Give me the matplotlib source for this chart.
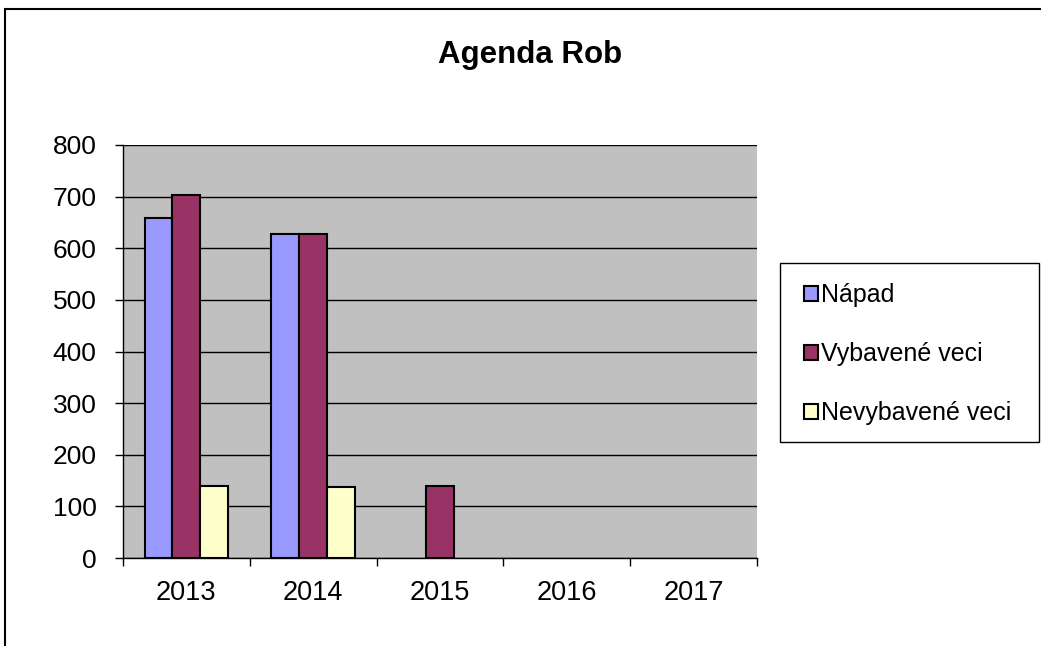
import numpy as np
import matplotlib
matplotlib.use("Agg")
import matplotlib.pyplot as plt
from matplotlib.patches import Rectangle

plt.rcParams["font.family"] = ["Liberation Sans", "DejaVu Sans"]

# data
years = ["2013", "2014", "2015", "2016", "2017"]
napad = [659, 628, 0, 0, 0]
vybavene = [703, 628, 139, 0, 0]
nevybavene = [140, 138, 0, 0, 0]

series_names = ["Nápad", "Vybavené veci", "Nevybavené veci"]
series_colors = ["#9999FF", "#993366", "#FFFFCC"]

W, H = 1041, 646
fig = plt.figure(figsize=(W / 100, H / 100), dpi=100)

# outer chart border (only top/left visible in the reference)
fig.patches.append(Rectangle((5 / W, -0.1), 1.2, 1 - 9 / H + 0.1,
                             transform=fig.transFigure, fill=False,
                             edgecolor="black", linewidth=1.5))

ax = fig.add_axes([123 / W, (H - 558) / H, (757 - 123) / W, (558 - 145) / H])
ax.set_facecolor("#C0C0C0")

x = np.arange(len(years))
bw = 0.22
bars = []
for i, (vals, col) in enumerate(zip([napad, vybavene, nevybavene], series_colors)):
    b = ax.bar(x + (i - 1) * bw, vals, width=bw, color=col,
               edgecolor="black", linewidth=1.5, zorder=3)
    # empty values are not drawn at all
    for p, v in zip(b.patches, vals):
        if v == 0:
            p.set_visible(False)
    bars.append(b)

ax.set_xlim(-0.5, len(years) - 0.5)
ax.set_ylim(0, 800)
ax.set_yticks(np.arange(0, 801, 100))
ax.yaxis.grid(True, color="black", linewidth=1.0, zorder=1)
ax.set_axisbelow(True)

# category boundaries as major ticks, labels at the centres
ax.set_xticks(np.arange(-0.5, len(years), 1.0))
ax.set_xticklabels([])
ax.set_xticks(x, minor=True)
ax.set_xticklabels(years, minor=True)
ax.tick_params(axis="x", which="major", direction="out", length=6, width=1.0)
ax.tick_params(axis="x", which="minor", length=0, pad=16, labelsize=19.5)
ax.tick_params(axis="y", direction="out", length=6, width=1.0, pad=13, labelsize=19)

for s in ["top", "right"]:
    ax.spines[s].set_visible(False)
ax.spines["left"].set_linewidth(1.0)
ax.spines["bottom"].set_linewidth(1.0)

fig.text(530 / W, 1 - 63 / H, "Agenda Rob", ha="center", va="baseline",
         fontsize=22.5, fontweight="bold")

# legend with its own frame
fig.patches.append(Rectangle((780 / W, 1 - 442 / H), (1039 - 780) / W, (442 - 263) / H,
                             transform=fig.transFigure, fill=True, facecolor="white",
                             edgecolor="black", linewidth=1.0, zorder=0))
leg = fig.legend(bars, series_names, loc="center left",
                 bbox_to_anchor=(804 / W, 1 - 354 / H), frameon=False,
                 fontsize=18, handlelength=0.56, handleheight=0.56,
                 handletextpad=0.12, labelspacing=1.4, borderpad=0, borderaxespad=0)
for h in leg.legend_handles:
    h.set_linewidth(1.5)

fig.savefig("out.png", dpi=100)
